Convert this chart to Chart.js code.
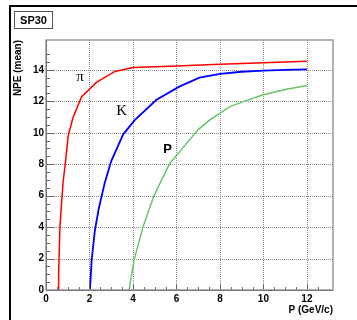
<!DOCTYPE html>
<html><head><meta charset="utf-8">
<script src="https://cdn.jsdelivr.net/npm/chart.js@4/dist/chart.umd.min.js"></script>
<style>html,body{margin:0;padding:0;background:#fff;}#wrap{width:357px;height:320px;}</style>
</head><body><div id="wrap"><canvas id="c" width="357" height="320"></canvas></div>
<script>
// Data
const piP   = [0.56,0.58,0.64,0.72,0.79,0.90,1.02,1.25,1.64,2.32,3.17,4.00,6.00,8.00,10.0,12.0];
const piNPE = [0,   1.0, 4.0, 5.6, 6.9, 8.2, 9.8, 11.0,12.3,13.2,13.9,14.15,14.25,14.36,14.45,14.55];
const kP    = [2.02,2.10,2.25,2.43,2.70,3.00,3.55,4.08,5.08,6.15,7.06,8.00,9.00,10.0,11.0,12.0];
const kNPE  = [0,   1.9, 3.8, 5.2, 6.8, 8.2, 9.9, 10.8,12.1,12.95,13.5,13.75,13.88,13.95,14.0,14.03];
const prP   = [3.82,4.05,4.46,4.95,5.69,6.15,7.00,7.52,8.44,9.00,9.95,11.0,12.0];
const prNPE = [0,   1.9, 4.0, 5.95,8.05,8.8, 10.2,10.8,11.65,11.95,12.4,12.75,13.0];
const xTickLabels = ['0','2','4','6','8','10','12'];
const yTickLabels = ['0','2','4','6','8','10','12','14'];
const curveLabels = [
  {text:'\u03c0', x:1.56, y:13.55, font:'15px "Liberation Serif"'},
  {text:'K', x:3.48, y:11.4, font:'15px "Liberation Serif"'},
  {text:'P', x:5.59, y:8.97, font:'bold 13px "Liberation Sans"'}
];
const xMax = 13.2, yMax = 15.9;

const toPts = (xs, ys) => xs.map((v,i)=>({x:v, y:ys[i]}));
const isMajor = v => Math.abs(v/2 - Math.round(v/2)) < 1e-6;
const isStep = v => Math.abs(v*2 - Math.round(v*2)) < 1e-6;

const decor = {
  id:'decor',
  beforeDraw(chart){
    const c = chart.ctx;
    c.save(); c.fillStyle='#fff'; c.fillRect(0,0,chart.width,chart.height); c.restore();
  },
  beforeDatasetsDraw(chart){
    const c = chart.ctx, a = chart.chartArea, xs = chart.scales.x, ys = chart.scales.y;
    c.save();
    c.strokeStyle='#8a8a8a'; c.lineWidth=1; c.setLineDash([1,1]);
    xs.ticks.forEach(t=>{
      if(!isMajor(t.value) || t.value<=0) return;
      const px = Math.round(xs.getPixelForValue(t.value))+0.5;
      c.beginPath(); c.moveTo(px,a.top); c.lineTo(px,a.bottom); c.stroke();
    });
    ys.ticks.forEach(t=>{
      if(!isMajor(t.value) || t.value<=0) return;
      const py = Math.round(ys.getPixelForValue(t.value))+0.5;
      c.beginPath(); c.moveTo(a.left,py); c.lineTo(a.right,py); c.stroke();
    });
    c.restore();
  },
  afterDatasetsDraw(chart){
    const c = chart.ctx, a = chart.chartArea, xs = chart.scales.x, ys = chart.scales.y;
    c.save();
    // inner ticks
    c.strokeStyle = '#666'; c.lineWidth = 1;
    xs.ticks.forEach(t=>{
      if(!isStep(t.value)) return;
      const px = Math.round(xs.getPixelForValue(t.value))+0.5;
      const len = isMajor(t.value)?6:3;
      c.beginPath(); c.moveTo(px,a.bottom); c.lineTo(px,a.bottom-len); c.stroke();
    });
    ys.ticks.forEach(t=>{
      if(!isStep(t.value)) return;
      const py = Math.round(ys.getPixelForValue(t.value))+0.5;
      const len = isMajor(t.value)?8:4;
      c.beginPath(); c.moveTo(a.left,py); c.lineTo(a.left+len,py); c.stroke();
    });
    // frame of plot
    c.strokeStyle='#999'; c.lineWidth=1.5;
    c.strokeRect(a.left, a.top, a.right-a.left, a.bottom-a.top);
    c.strokeStyle='#777'; c.lineWidth=1;
    c.beginPath(); c.moveTo(a.left+0.5,a.top); c.lineTo(a.left+0.5,a.bottom+0.5); c.lineTo(a.right,a.bottom+0.5); c.stroke();
    // curve labels
    c.fillStyle='#000'; c.textAlign='center'; c.textBaseline='middle';
    curveLabels.forEach(l=>{
      c.font=l.font;
      c.fillText(l.text, xs.getPixelForValue(l.x), ys.getPixelForValue(l.y));
    });
    // axis titles
    c.font='bold 10px "Liberation Sans"';
    c.textAlign='right'; c.textBaseline='middle';
    c.fillText('P (GeV/c)', a.right, 310);
    c.save(); c.translate(18, a.top); c.rotate(-Math.PI/2);
    c.textAlign='right'; c.fillText('NPE (mean)', 0, 0); c.restore();
    // outer frame
    c.fillStyle='#000';
    c.fillRect(10,5,347,2);
    c.fillRect(9,5,2,315);
    // title box
    c.fillStyle='#fff'; c.fillRect(14,11,39,18);
    c.strokeStyle='#555'; c.lineWidth=1; c.strokeRect(14.5,11.5,38,17);
    c.fillStyle='#000'; c.font='bold 11px "Liberation Sans"'; c.textAlign='center'; c.textBaseline='middle';
    c.fillText('SP30', 33.5, 20.5);
    c.restore();
  }
};

new Chart(document.getElementById('c'), {
  type:'scatter',
  data:{datasets:[
    {data:toPts(piP,piNPE), borderColor:'#ff0000', showLine:true, pointRadius:0, borderWidth:1.5, tension:0},
    {data:toPts(kP,kNPE), borderColor:'#0000ff', showLine:true, pointRadius:0, borderWidth:1.8, tension:0},
    {data:toPts(prP,prNPE), borderColor:'#66c466', showLine:true, pointRadius:0, borderWidth:1.5, tension:0}
  ]},
  options:{
    responsive:false, animation:false, devicePixelRatio:1,
    layout:{padding:{left:0, top:40, right:24, bottom:0}},
    plugins:{legend:{display:false}, tooltip:{enabled:false}},
    scales:{
      x:{type:'linear', min:0, max:xMax,
        afterFit(s){ s.height = 30; },
        grid:{display:false, drawTicks:false},
        border:{display:false},
        ticks:{stepSize:0.5, padding:3, autoSkip:false, maxRotation:0, color:'#000',
          font:{family:'Liberation Sans', weight:'bold', size:10},
          callback:v=> isMajor(v) ? xTickLabels[Math.round(v/2)] : ''}
      },
      y:{type:'linear', min:0, max:yMax,
        afterFit(s){ s.width = 46; },
        grid:{display:false, drawTicks:false},
        border:{display:false},
        ticks:{stepSize:0.5, padding:2, autoSkip:false, color:'#000',
          font:{family:'Liberation Sans', weight:'bold', size:10},
          callback:v=> isMajor(v) ? yTickLabels[Math.round(v/2)] : ''}
      }
    }
  },
  plugins:[decor]
});
</script></body></html>
